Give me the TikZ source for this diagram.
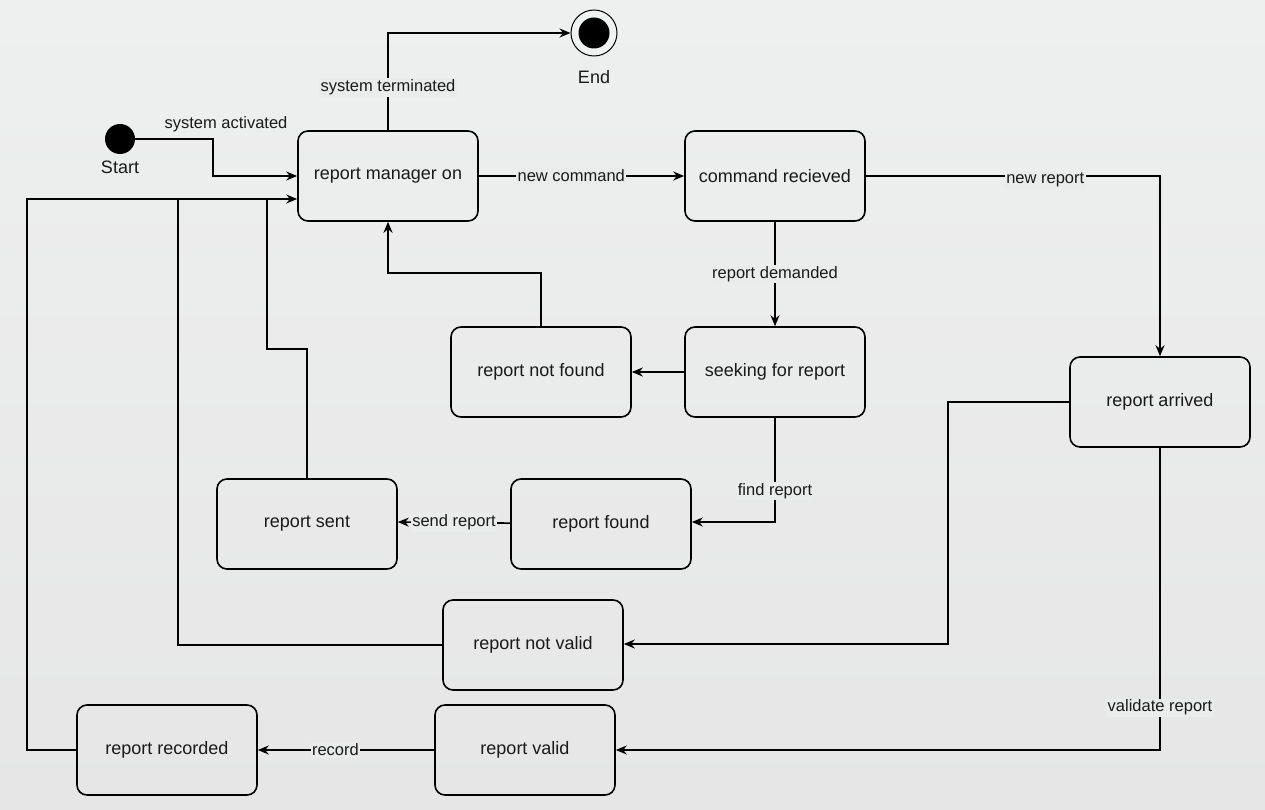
\documentclass[tikz,border=0pt]{standalone}
\usepackage{fontspec}
\setmainfont{Liberation Sans}
\usetikzlibrary{arrows.meta}
\definecolor{bg}{HTML}{EAEBEB}
\definecolor{bgtop}{HTML}{EEEFEF}
\definecolor{bgbot}{HTML}{E6E6E6}
\definecolor{txt}{HTML}{1A1A1A}
\begin{document}
\begin{tikzpicture}[x=1pt,y=-1pt,
  state/.style={draw, line width=1.6pt, rounded corners=10pt, minimum width=180pt, minimum height=90pt, inner sep=2pt, font=\fontsize{18}{21}\selectfont, text=txt},
  lbl/.style={font=\fontsize{16.5}{19}\selectfont, fill=bg, inner sep=1.5pt, text=txt},
  plainlbl/.style={font=\fontsize{16.5}{19}\selectfont, inner sep=1pt, text=txt},
  captext/.style={font=\fontsize{18}{21}\selectfont, inner sep=1pt, text=txt},
  wire/.style={line width=1.6pt},
  arr/.style={wire, -{Stealth[length=11pt,width=9pt]}}]
\useasboundingbox (0,0) rectangle (1265,810);
\shade[top color=bgtop, bottom color=bgbot] (0,0) rectangle (1265,810);

% nodes
\node[state] (rmo) at (388,176) {report manager on};
\node[state] (cr)  at (775,176) {command recieved};
\node[state] (sfr) at (775,372) {seeking for report};
\node[state] (rnf) at (541,372) {report not found};
\node[state] (ra)  at (1160,402) {report arrived};
\node[state] (rf)  at (601,524) {report found};
\node[state] (rs)  at (307,524) {report sent};
\node[state] (rnv) at (533,645) {report not valid};
\node[state] (rv)  at (525,750) {report valid};
\node[state] (rr)  at (167,750) {report recorded};

\node[circle, fill=black, minimum size=30pt, inner sep=0pt] (start) at (120,139) {};
\node[captext] (startl) at (120,167) {Start};
\node[circle, draw=black, line width=1pt, fill=white!30!bg, minimum size=46pt, inner sep=0pt] (end) at (594,33) {};
\node[circle, fill=black, minimum size=31pt, inner sep=0pt] (endc) at (end) {};
\node[captext] (endl) at (594,77) {End};

\coordinate (rmoin) at ([yshift=-23pt]rmo.west);

% connectors
\draw[arr] (start.east) -- (213,139) |- (rmo.west);
\node[plainlbl] (lsa) at (226,124) {system activated};

\draw[arr] (rmo.north) |- node[lbl, pos=0.22] {system terminated} (end.west);

\draw[arr] (rmo) -- node[lbl, pos=0.45] {new command} (cr);

\draw[arr] (cr.east) -| node[lbl, pos=0.305, yshift=-4pt] {new report} (ra.north);

\draw[arr] (cr) -- node[lbl] {report demanded} (sfr);

\draw[arr] (sfr) -- (rnf);

\draw[arr] (rnf.north) -- (541,273) -| (rmo.south);

\draw[arr] (sfr.south) |- node[lbl, pos=0.35] {find report} ([yshift=2pt]rf.east);

\draw[arr] (rf) -- node[lbl] {send report} ([yshift=2pt]rs.east);

\draw[wire] (rs.north) -- (307,349) -- (267,349) -- (267,199);
\draw[wire] (rnv.west) -| (178,199);
\draw[arr] (rr.west) -- (27,750) -- (27,199) -- (rmoin);

\draw[arr] (ra.west) -- (948,402) |- ([yshift=1pt]rnv.east);

\draw[arr] (ra.south) |- node[lbl, pos=0.43] {validate report} (rv.east);

\draw[arr] (rv) -- node[lbl, pos=0.56] {record} (rr);
\end{tikzpicture}
\end{document}
